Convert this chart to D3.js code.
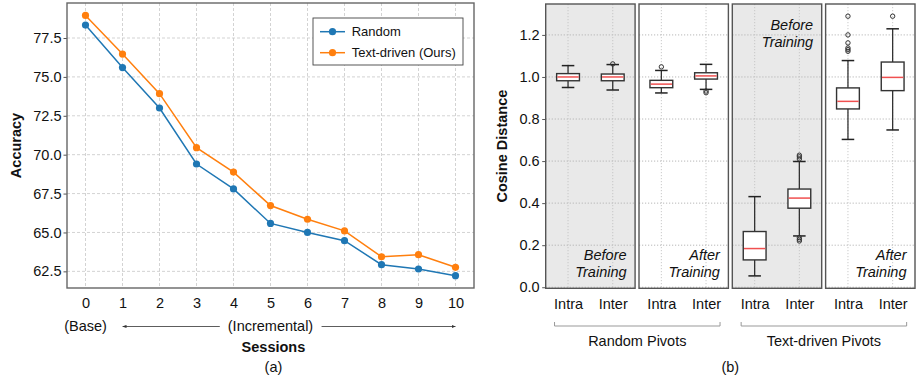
<!DOCTYPE html>
<html>
<head>
<meta charset="utf-8">
<script src="https://cdn.jsdelivr.net/npm/d3@7"></script>
<style>
  body { margin: 0; background: #fff; }
  svg { font-family: "Liberation Sans", Arial, sans-serif; }
</style>
</head>
<body>
<svg width="916" height="380"></svg>
<script>
// ---- data: (a) accuracy per session ----
const sessions = [0, 1, 2, 3, 4, 5, 6, 7, 8, 9, 10]
const randomAcc = [78.33, 75.6, 73.0, 69.4, 67.8, 65.58, 65.0, 64.47, 62.93, 62.65, 62.22]
const textAcc = [78.95, 76.47, 73.92, 70.45, 68.88, 66.73, 65.85, 65.1, 63.44, 63.57, 62.76]
const accTicks = [62.5, 65.0, 67.5, 70.0, 72.5, 75.0, 77.5]
const seriesNames = ['Random', 'Text-driven (Ours)']

// ---- data: (b) cosine distance box stats ----
const panels = ['rand-before', 'rand-after', 'text-before', 'text-after']
const groups = ['Intra', 'Inter']
// [whiskerLow, q1, median, q3, whiskerHigh] for Intra and Inter in each panel
const boxStats = [
  [[0.950, 0.982, 1.000, 1.016, 1.054], [0.938, 0.982, 1.000, 1.014, 1.059]],
  [[0.924, 0.949, 0.966, 0.984, 1.031], [0.941, 0.990, 1.005, 1.020, 1.060]],
  [[0.054, 0.130, 0.184, 0.265, 0.431], [0.244, 0.376, 0.424, 0.467, 0.598]],
  [[0.703, 0.848, 0.884, 0.948, 1.078], [0.748, 0.935, 0.998, 1.071, 1.229]]
]
const outliers = [
  [[], [1.062]],
  [[1.048], [0.933, 0.925]],
  [[], [0.61, 0.62, 0.628, 0.236, 0.228, 0.22]],
  [[1.289, 1.200, 1.162, 1.138, 1.13, 1.122], [1.289]]
]
const cosTicks = [0.0, 0.2, 0.4, 0.6, 0.8, 1.0, 1.2]
const shaded = [true, false, true, false]
const panelNotes = [['Before', 'Training'], ['After', 'Training'], ['Before', 'Training'], ['After', 'Training']]
const pivotGroups = ['Random Pivots', 'Text-driven Pivots']

const svg = d3.select('svg')
const colors = ['#1f77b4', '#ff7f0e']

// ================= (a) =================
const a = { left: 67, right: 474, top: 3, bottom: 288 }
const x = d3.scaleLinear().domain([-0.5, 10.5]).range([a.left, a.right])
const y = d3.scaleLinear().domain([61.43, 79.75]).range([a.bottom, a.top])

const gA = svg.append('g')

// grid
gA.append('g').selectAll('line').data(sessions).join('line')
  .attr('x1', d => x(d)).attr('x2', d => x(d))
  .attr('y1', a.top).attr('y2', a.bottom)
  .attr('stroke', '#c8c8c8').attr('stroke-dasharray', '3,2').attr('stroke-width', 0.8)
gA.append('g').selectAll('line').data(accTicks).join('line')
  .attr('x1', a.left).attr('x2', a.right)
  .attr('y1', d => y(d)).attr('y2', d => y(d))
  .attr('stroke', '#c8c8c8').attr('stroke-dasharray', '3,2').attr('stroke-width', 0.8)

// axes
const yAxisA = d3.axisLeft(y).tickValues(accTicks).tickFormat(d3.format('.1f')).tickSize(3.5).tickPadding(2)
gA.append('g').attr('transform', `translate(${a.left},0)`).call(yAxisA)
  .attr('font-family', null).attr('font-size', 14.5)
  .call(g => g.select('.domain').remove())
  .call(g => g.selectAll('text').attr('fill', '#111'))
  .call(g => g.selectAll('line').attr('stroke', '#555'))

const xAxisA = d3.axisBottom(x).tickValues(sessions).tickFormat(d3.format('d')).tickSize(0).tickPadding(10)
gA.append('g').attr('transform', `translate(0,${a.bottom})`).call(xAxisA)
  .attr('font-family', null).attr('font-size', 14.5)
  .call(g => g.select('.domain').remove())
  .call(g => g.selectAll('text').attr('fill', '#111'))

// series
const line = d3.line().x((d, i) => x(sessions[i])).y(d => y(d))
;[randomAcc, textAcc].forEach((vals, k) => {
  gA.append('path').datum(vals).attr('d', line)
    .attr('fill', 'none').attr('stroke', colors[k]).attr('stroke-width', 1.5)
  gA.append('g').selectAll('circle').data(vals).join('circle')
    .attr('cx', (d, i) => x(sessions[i])).attr('cy', d => y(d)).attr('r', 3.6)
    .attr('fill', colors[k])
})

// frame
gA.append('rect').attr('x', a.left).attr('y', a.top)
  .attr('width', a.right - a.left).attr('height', a.bottom - a.top)
  .attr('fill', 'none').attr('stroke', '#666').attr('stroke-width', 1.4)

// legend
const lg = gA.append('g').attr('transform', 'translate(313,18)')
lg.append('rect').attr('width', 150).attr('height', 47)
  .attr('fill', '#fff').attr('stroke', '#444').attr('stroke-width', 0.9)
seriesNames.forEach((name, k) => {
  const yy = 13.7 + k * 21
  lg.append('line').attr('x1', 7).attr('x2', 32).attr('y1', yy).attr('y2', yy)
    .attr('stroke', colors[k]).attr('stroke-width', 1.5)
  lg.append('circle').attr('cx', 19.5).attr('cy', yy).attr('r', 3.6).attr('fill', colors[k])
  lg.append('text').attr('x', 38.7).attr('y', yy + 4.6).attr('font-size', 13).attr('fill', '#111').text(name)
})

// session annotations
const arrowY = 326.5
svg.append('defs').append('marker').attr('id', 'ah')
  .attr('viewBox', '0 0 10 10').attr('refX', 10).attr('refY', 5)
  .attr('markerWidth', 5).attr('markerHeight', 5).attr('orient', 'auto-start-reverse')
  .append('path').attr('d', 'M0,1 L10,5 L0,9 Z').attr('fill', '#333')
gA.append('text').attr('x', x(0)).attr('y', arrowY + 4.5).attr('text-anchor', 'middle')
  .attr('font-size', 14.5).attr('fill', '#111').text('(Base)')
gA.append('text').attr('x', x(5)).attr('y', arrowY + 4.5).attr('text-anchor', 'middle')
  .attr('font-size', 14.5).attr('fill', '#111').text('(Incremental)')
gA.append('line').attr('x1', x(3.63)).attr('x2', x(1)).attr('y1', arrowY).attr('y2', arrowY)
  .attr('stroke', '#333').attr('stroke-width', 0.8).attr('marker-end', 'url(#ah)')
gA.append('line').attr('x1', x(6.38)).attr('x2', x(10)).attr('y1', arrowY).attr('y2', arrowY)
  .attr('stroke', '#333').attr('stroke-width', 0.8).attr('marker-end', 'url(#ah)')
gA.append('text').attr('x', x(5.08)).attr('y', 352).attr('text-anchor', 'middle')
  .attr('font-size', 14.5).attr('font-weight', 'bold').attr('fill', '#111').text('Sessions')
gA.append('text').attr('x', x(5.08)).attr('y', 372).attr('text-anchor', 'middle')
  .attr('font-size', 14.5).attr('fill', '#111').text('(a)')
gA.append('text').attr('transform', `translate(20.5,${(a.top + a.bottom) / 2}) rotate(-90)`)
  .attr('text-anchor', 'middle').attr('font-size', 14.5).attr('font-weight', 'bold')
  .attr('fill', '#111').text('Accuracy')

// ================= (b) =================
const b = { left: 545.7, right: 915, top: 4, bottom: 288.3 }
const px = d3.scaleBand().domain(panels).range([b.left, b.right]).paddingInner(0.042)
const bw = px.bandwidth()
const gx = d3.scalePoint().domain(groups).range([0, bw]).padding(0.5)
const yB = d3.scaleLinear().domain([-0.005, 1.347]).range([b.bottom, b.top])
const boxW = bw * 0.255
const capW = boxW * 0.55

const gB = svg.append('g')

panels.forEach((p, pi) => {
  const g = gB.append('g').attr('transform', `translate(${px(p)},0)`)
  g.append('rect').attr('x', 0).attr('y', b.top).attr('width', bw).attr('height', b.bottom - b.top)
    .attr('fill', shaded[pi] ? '#e9e9e9' : '#fff')
  // grid
  g.append('g').selectAll('line').data(cosTicks).join('line')
    .attr('x1', 0).attr('x2', bw).attr('y1', d => yB(d)).attr('y2', d => yB(d))
    .attr('stroke', '#b0b0b0').attr('stroke-dasharray', '1.2,1.8').attr('stroke-width', 0.9)
  g.append('g').selectAll('line').data(groups).join('line')
    .attr('x1', d => gx(d)).attr('x2', d => gx(d)).attr('y1', b.top).attr('y2', b.bottom)
    .attr('stroke', '#c4c4c4').attr('stroke-dasharray', '1.2,1.8').attr('stroke-width', 0.9)

  // boxes
  groups.forEach((grp, gi) => {
    const [lo, q1, med, q3, hi] = boxStats[pi][gi]
    const cx = gx(grp)
    const bx = g.append('g')
    bx.append('line').attr('x1', cx).attr('x2', cx).attr('y1', yB(hi)).attr('y2', yB(q3))
      .attr('stroke', '#333').attr('stroke-width', 1.3)
    bx.append('line').attr('x1', cx).attr('x2', cx).attr('y1', yB(q1)).attr('y2', yB(lo))
      .attr('stroke', '#333').attr('stroke-width', 1.3)
    ;[lo, hi].forEach(v => bx.append('line')
      .attr('x1', cx - capW / 2).attr('x2', cx + capW / 2).attr('y1', yB(v)).attr('y2', yB(v))
      .attr('stroke', '#222').attr('stroke-width', 1.5))
    bx.append('rect').attr('x', cx - boxW / 2).attr('y', yB(q3))
      .attr('width', boxW).attr('height', yB(q1) - yB(q3))
      .attr('fill', '#fff').attr('stroke', '#333').attr('stroke-width', 1.4)
    bx.append('line').attr('x1', cx - boxW / 2 + 0.7).attr('x2', cx + boxW / 2 - 0.7)
      .attr('y1', yB(med)).attr('y2', yB(med))
      .attr('stroke', '#f05050').attr('stroke-width', 1.5)
    bx.append('g').selectAll('circle').data(outliers[pi][gi]).join('circle')
      .attr('cx', cx).attr('cy', d => yB(d)).attr('r', 2.2)
      .attr('fill', 'none').attr('stroke', '#333').attr('stroke-width', 1)
  })

  // notes
  const note = panelNotes[pi]
  const topNote = pi === 2
  const ny = topNote ? [30, 47] : [260, 277]
  note.forEach((t, k) => g.append('text').attr('x', bw - 8.5).attr('y', ny[k])
    .attr('text-anchor', 'end').attr('font-size', 14.5).attr('font-style', 'italic')
    .attr('fill', '#111').text(t))

  g.append('rect').attr('x', 0).attr('y', b.top).attr('width', bw).attr('height', b.bottom - b.top)
    .attr('fill', 'none').attr('stroke', '#555').attr('stroke-width', 1.4)

  // x tick labels
  const xAx = d3.axisBottom(gx).tickSize(0).tickPadding(10)
  g.append('g').attr('transform', `translate(0,${b.bottom})`).call(xAx)
    .attr('font-family', null).attr('font-size', 14.5)
    .call(s => s.select('.domain').remove())
    .call(s => s.selectAll('text').attr('fill', '#111'))
})

// y axis
const yAxisB = d3.axisLeft(yB).tickValues(cosTicks).tickFormat(d3.format('.1f')).tickSize(3.5).tickPadding(2.5)
gB.append('g').attr('transform', `translate(${b.left},0)`).call(yAxisB)
  .attr('font-family', null).attr('font-size', 14.5)
  .call(g => g.select('.domain').remove())
  .call(g => g.selectAll('text').attr('fill', '#111'))
  .call(g => g.selectAll('line').attr('stroke', '#555'))

gB.append('text').attr('transform', `translate(507,${(b.top + b.bottom) / 2}) rotate(-90)`)
  .attr('text-anchor', 'middle').attr('font-size', 14.5).attr('font-weight', 'bold')
  .attr('fill', '#111').text('Cosine Distance')

// group brackets
pivotGroups.forEach((name, k) => {
  const x0 = px(panels[k * 2]) + gx('Intra') - 13.5
  const x1 = px(panels[k * 2 + 1]) + gx('Inter') + 14
  gB.append('path').attr('d', `M${x0},322 V326 H${x1} V322`)
    .attr('fill', 'none').attr('stroke', '#999').attr('stroke-width', 1)
  gB.append('text').attr('x', (x0 + x1) / 2).attr('y', 346).attr('text-anchor', 'middle')
    .attr('font-size', 14.5).attr('fill', '#111').text(name)
})
gB.append('text').attr('x', px(panels[2]) - 2).attr('y', 372).attr('text-anchor', 'middle')
  .attr('font-size', 14.5).attr('fill', '#111').text('(b)')
</script>
</body>
</html>
